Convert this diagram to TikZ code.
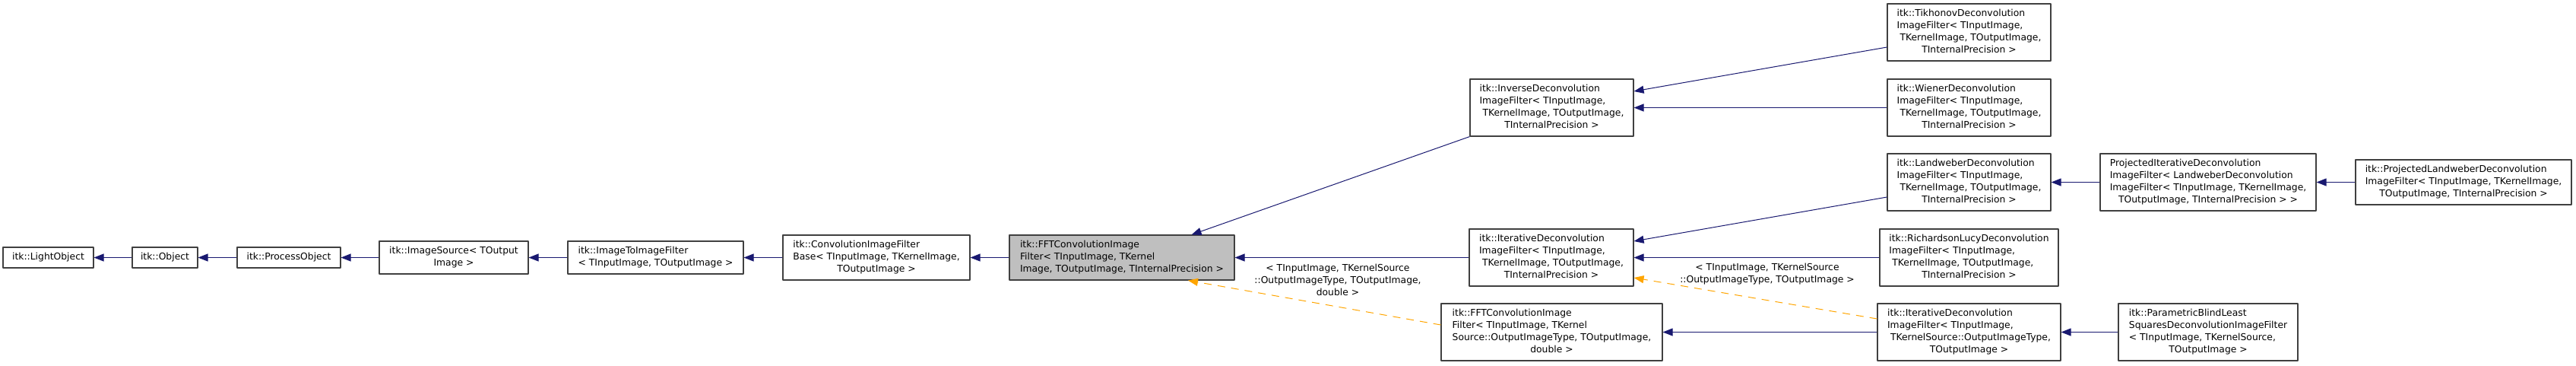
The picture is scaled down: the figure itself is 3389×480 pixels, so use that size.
\documentclass[tikz,border=0pt]{standalone}
\usepackage{fontspec}
\setmainfont{DejaVu Sans}
\usetikzlibrary{arrows.meta}
\definecolor{edgeblue}{RGB}{25,25,112}
\definecolor{edgeorange}{RGB}{255,165,0}
\definecolor{rootgray}{RGB}{191,191,191}
% lines left aligned, last line centred
\newcommand{\lbl}[2]{\begin{tabular}{@{}l@{}}#1\multicolumn{1}{@{}c@{}}{#2}\end{tabular}}
\begin{document}
\begin{tikzpicture}[x=1pt,y=-1pt,line join=round,
	cls/.style={draw=black!75,line width=1.1pt,fill=white,inner sep=0pt,font=\fontsize{12.35}{16}\selectfont},
	root/.style={cls,fill=rootgray},
	inh/.style={draw=edgeblue,line width=1pt,-{Triangle[length=13pt,width=10pt]}},
	tmpl/.style={draw=edgeorange,line width=1pt,dash pattern=on 10pt off 8pt,-{Triangle[length=13pt,width=10pt]}},
	tlabel/.style={font=\fontsize{12.35}{16}\selectfont,align=center,inner sep=0pt}]
	\useasboundingbox (0,0) rectangle (3389,480);
	% base chain
	\node[cls,minimum width=119pt,minimum height=27pt] (light) at (63.5,338.5) {itk::LightObject};
	\node[cls,minimum width=86pt,minimum height=27pt] (object) at (217,338.5) {itk::Object};
	\node[cls,minimum width=136pt,minimum height=27pt] (process) at (380,338.5) {itk::ProcessObject};
	\node[cls,minimum width=196pt,minimum height=43pt] (imgsrc) at (597,338.5) {\lbl{itk::ImageSource< TOutput\\}{Image >}};
	\node[cls,minimum width=231pt,minimum height=43pt] (imgtoimg) at (862.5,338.5) {\lbl{itk::ImageToImageFilter\\}{< TInputImage, TOutputImage >}};
	\node[cls,minimum width=246pt,minimum height=59pt] (convbase) at (1153,338.5) {\lbl{itk::ConvolutionImageFilter\\Base< TInputImage, TKernelImage,\\}{TOutputImage >}};
	\node[root,minimum width=296pt,minimum height=59pt] (fft) at (1476,338.5) {\lbl{itk::FFTConvolutionImage\\Filter< TInputImage, TKernel\\}{Image, TOutputImage, TInternalPrecision >}};
	% second column
	\node[cls,minimum width=215pt,minimum height=75pt] (inverse) at (2041.5,141.5) {\lbl{itk::InverseDeconvolution\\ImageFilter< TInputImage,\\\ TKernelImage, TOutputImage,\\}{TInternalPrecision >}};
	\node[cls,minimum width=216pt,minimum height=75pt] (iterative) at (2041,338.5) {\lbl{itk::IterativeDeconvolution\\ImageFilter< TInputImage,\\\ TKernelImage, TOutputImage,\\}{TInternalPrecision >}};
	\node[cls,minimum width=291pt,minimum height=75pt] (fftd) at (2041.5,436.5) {\lbl{itk::FFTConvolutionImage\\Filter< TInputImage, TKernel\\Source::OutputImageType, TOutputImage,\\}{double >}};
	% third column
	\node[cls,minimum width=215pt,minimum height=75pt] (tikhonov) at (2590.5,42.5) {\lbl{itk::TikhonovDeconvolution\\ImageFilter< TInputImage,\\\ TKernelImage, TOutputImage,\\}{TInternalPrecision >}};
	\node[cls,minimum width=215pt,minimum height=75pt] (wiener) at (2590.5,141.5) {\lbl{itk::WienerDeconvolution\\ImageFilter< TInputImage,\\\ TKernelImage, TOutputImage,\\}{TInternalPrecision >}};
	\node[cls,minimum width=215pt,minimum height=75pt] (landweber) at (2590.5,239.5) {\lbl{itk::LandweberDeconvolution\\ImageFilter< TInputImage,\\\ TKernelImage, TOutputImage,\\}{TInternalPrecision >}};
	\node[cls,minimum width=235pt,minimum height=75pt] (richardson) at (2590.5,338.5) {\lbl{itk::RichardsonLucyDeconvolution\\ImageFilter< TInputImage,\\\ TKernelImage, TOutputImage,\\}{TInternalPrecision >}};
	\node[cls,minimum width=241pt,minimum height=75pt] (iterdec) at (2590.5,436.5) {\lbl{itk::IterativeDeconvolution\\ImageFilter< TInputImage,\\\ TKernelSource::OutputImageType,\\}{TOutputImage >}};
	% right columns
	\node[cls,minimum width=284pt,minimum height=75pt] (projiter) at (2905,239.5) {\lbl{ProjectedIterativeDeconvolution\\ImageFilter< LandweberDeconvolution\\ImageFilter< TInputImage, TKernelImage,\\}{TOutputImage, TInternalPrecision > >}};
	\node[cls,minimum width=236pt,minimum height=75pt] (blind) at (2905,436.5) {\lbl{itk::ParametricBlindLeast\\SquaresDeconvolutionImageFilter\\< TInputImage, TKernelSource,\\}{TOutputImage >}};
	\node[cls,minimum width=284pt,minimum height=59pt] (projlw) at (3241,239.5) {\lbl{itk::ProjectedLandweberDeconvolution\\ImageFilter< TInputImage, TKernelImage,\\}{TOutputImage, TInternalPrecision >}};
	% template labels
	\node[tlabel] (targsa) at (1760,368) {< TInputImage, TKernelSource\\::OutputImageType, TOutputImage,\\double >};
	\node[tlabel] (targsb) at (2325,360) {< TInputImage, TKernelSource\\::OutputImageType, TOutputImage >};
	% inheritance
	\draw[inh] (object) -- (light);
	\draw[inh] (process) -- (object);
	\draw[inh] (imgsrc) -- (process);
	\draw[inh] (imgtoimg) -- (imgsrc);
	\draw[inh] (convbase) -- (imgtoimg);
	\draw[inh] (fft) -- (convbase);
	\draw[inh] (inverse.south west) -- ([xshift=-57pt]fft.north east);
	\draw[inh] (iterative) -- (fft);
	\draw[tmpl] ([yshift=9.5pt]fftd.west) -- ([xshift=87pt]fft.south);
	\draw[inh] ([yshift=-19.5pt]tikhonov.west) -- ([yshift=21.5pt]inverse.east);
	\draw[inh] (wiener) -- (inverse);
	\draw[inh] ([yshift=-19.5pt]landweber.west) -- ([yshift=21.5pt]iterative.east);
	\draw[inh] (richardson) -- (iterative);
	\draw[tmpl] ([yshift=17.5pt]iterdec.west) -- ([yshift=-26.5pt]iterative.east);
	\draw[inh] (iterdec) -- (fftd);
	\draw[inh] (projiter) -- (landweber);
	\draw[inh] (projlw) -- (projiter);
	\draw[inh] (blind) -- (iterdec);
\end{tikzpicture}
\end{document}
